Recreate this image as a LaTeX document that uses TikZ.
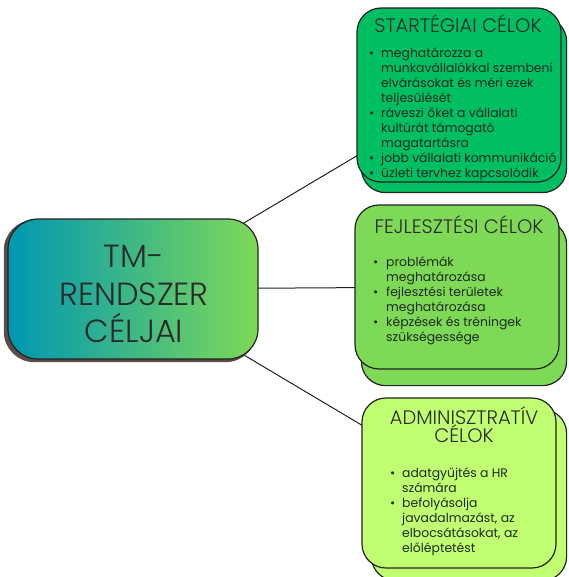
\documentclass[tikz,border=0pt]{standalone}
\usepackage{fontspec}
\setmainfont{Poppins}
\newfontfamily\lightfont{Poppins Light}

\definecolor{tealA}{HTML}{0097B2}
\definecolor{greenA}{HTML}{00BF63}
\definecolor{greenB}{HTML}{7ED957}
\definecolor{limeA}{HTML}{C1FF72}
\definecolor{edge}{HTML}{222222}
\definecolor{ink}{HTML}{2A2A2A}
\definecolor{bodyink}{HTML}{1E2A1E}
\definecolor{shade}{HTML}{5B4D45}

\pgfdeclarelayer{lines}
\pgfdeclarelayer{shadows}
\pgfsetlayers{lines,shadows,main}

\tikzset{
  goalbox/.style={draw=edge, line width=1.2pt, rounded corners=24pt, inner sep=0pt},
  headtext/.style={text=ink, font=\lightfont\fontsize{19.5}{18}\selectfont, inner sep=0pt},
  listtext/.style={text=bodyink, font=\fontsize{12.4}{15}\selectfont, inner sep=0pt, anchor=north west},
  link/.style={draw=edge, line width=1pt},
}

\begin{document}
\begin{tikzpicture}[x=1pt,y=-1pt]
\useasboundingbox (0,0) rectangle (568,577);

% main topic
\node[draw=edge, line width=1.2pt, rounded corners=30pt, inner sep=0pt,
      left color=tealA, right color=greenB,
      minimum width=250pt, minimum height=140pt] (c) at (133,289) {};
\node[text=ink, font=\lightfont\fontsize{32}{37.5}\selectfont, align=center, inner sep=0pt]
  (ctext) at (134,294) {TM-\\RENDSZER\\CÉLJAI};

% goal boxes
\node[goalbox, fill=greenA, minimum width=204pt, minimum height=174pt] (s1) at (459,95) {};
\node[goalbox, fill=greenB, minimum width=204pt, minimum height=164pt] (s2) at (457,287) {};
\node[goalbox, fill=limeA, minimum width=194pt, minimum height=170pt] (s3) at (459,483) {};

% stacked copies behind the boxes
\begin{pgfonlayer}{shadows}
  \draw[draw=shade, line width=1.2pt, rounded corners=30pt, fill=shade]
    ([shift={(-3,2)}]c.south west) rectangle ([shift={(-3,2)}]c.north east);
  \draw[goalbox, fill=greenA] ([shift={(5,10)}]s1.south west) rectangle ([shift={(5,10)}]s1.north east);
  \draw[goalbox, fill=greenB] ([shift={(7,16)}]s2.south west) rectangle ([shift={(7,16)}]s2.north east);
  \draw[goalbox, fill=limeA] ([shift={(10,12)}]s3.south west) rectangle ([shift={(10,12)}]s3.north east);
\end{pgfonlayer}

% connectors
\begin{pgfonlayer}{lines}
  \draw[link] (c.center) -- (s1.center);
  \draw[link] (c.center) -- (s2.center);
  \draw[link] (c.center) -- (s3.center);
\end{pgfonlayer}

% headings
\node[headtext] (h1) at (458,24) {STARTÉGIAI CÉLOK};
\node[headtext] (h2) at (459,225) {FEJLESZTÉSI CÉLOK};
\node[headtext, align=center] (h3) at (464,425) {ADMINISZTRATÍV\\CÉLOK};

% bullet lists
\node[listtext] (l1) at (369,46.5) {%
  \begin{tabular}{@{}p{12pt}@{}l@{}}
  • & meghatározza a\\
    & munkavállalókkal szembeni\\
    & elvárásokat és méri ezek\\
    & teljesülését\\
  • & ráveszi őket a vállalati\\
    & kultúrát támogató\\
    & magatartásra\\
  • & jobb vállalati kommunikáció\\
  • & üzleti tervhez kapcsolódik
  \end{tabular}};

\node[listtext] (l2) at (373,255.5) {%
  \begin{tabular}{@{}p{13pt}@{}l@{}}
  • & problémák\\
    & meghatározása\\
  • & fejlesztési területek\\
    & meghatározása\\
  • & képzések és tréningek\\
    & szükségessége
  \end{tabular}};

\node[listtext] (l3) at (390,466.5) {%
  \begin{tabular}{@{}p{12pt}@{}l@{}}
  • & adatgyűjtés a HR\\
    & számára\\
  • & befolyásolja\\
    & javadalmazást, az\\
    & elbocsátásokat, az\\
    & előléptetést
  \end{tabular}};
\end{tikzpicture}
\end{document}
